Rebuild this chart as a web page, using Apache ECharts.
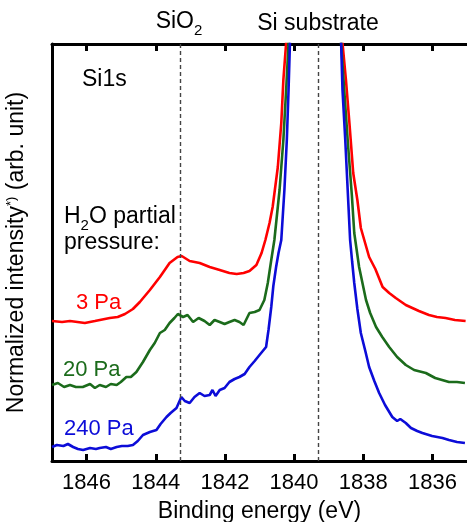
<!DOCTYPE html>
<html>
<head>
<meta charset="utf-8">
<script src="https://cdn.jsdelivr.net/npm/echarts@6/dist/echarts.min.js"></script>
<style>html,body{margin:0;padding:0;background:#fff}#c{width:467px;height:522px}</style>
</head>
<body>
<div id="c"></div>
<script>
// Binding energy axis ticks (eV)
const tickValues = [1836, 1838, 1840, 1842, 1844, 1846];
// Reference positions (dashed lines)
const refLines = [1843.3, 1839.3];
const refLabels = ['SiO2', 'Si substrate'];

// 3 Pa (red)
const energy3Pa = [1847.00,1846.71,1846.48,1846.05,1845.76,1845.33,1845.10,1844.89,1844.66,1844.46,1844.17,1843.88,1843.60,1843.37,1843.25,1843.02,1842.73,1842.44,1842.15,1841.87,1841.66,1841.46,1841.29,1841.09,1840.94,1840.83,1840.71,1840.62,1840.47,1840.37,1840.31,1840.23,1840.14,1838.69,1838.60,1838.50,1838.40,1838.29,1838.17,1838.07,1837.83,1837.65,1837.44,1837.25,1837.06,1836.77,1836.58,1836.39,1836.10,1835.87,1835.62,1835.35,1835.04];
const intensity3Pa = [140,139,140,138,140,143,144,147,152,159,171,184,198,204,205,200,198,194,191,188,187,188,190,196,208,221,238,254,294,338,381,418,470,470,418,381,338,288,261,233,204,192,174,168,163,156,153,150,146,144,143,141,140];

// 20 Pa (green)
const energy20Pa = [1847.00,1846.83,1846.65,1846.48,1846.31,1846.11,1845.90,1845.76,1845.62,1845.44,1845.30,1845.13,1845.01,1844.85,1844.72,1844.56,1844.37,1844.17,1844.03,1843.88,1843.74,1843.60,1843.46,1843.36,1843.21,1843.08,1842.92,1842.76,1842.59,1842.44,1842.30,1842.15,1842.01,1841.87,1841.72,1841.58,1841.46,1841.29,1841.14,1841.00,1840.86,1840.76,1840.66,1840.57,1840.42,1840.31,1840.23,1840.16,1840.08,1838.72,1838.64,1838.55,1838.45,1838.33,1838.26,1838.12,1837.92,1837.80,1837.63,1837.45,1837.25,1837.02,1836.77,1836.53,1836.19,1835.92,1835.52,1835.29,1835.06];
const intensity20Pa = [76,78,74,76,74,74,77,73,76,74,77,76,79,84,84,89,99,111,118,128,131,138,143,147,144,146,139,143,140,136,141,139,137,139,141,139,136,148,149,151,161,178,201,221,271,321,371,418,470,470,418,371,321,266,228,194,161,148,134,124,114,104,96,91,88,83,79,79,78];

// 240 Pa (blue)
const energy240Pa = [1847.00,1846.86,1846.67,1846.54,1846.39,1846.25,1846.10,1845.90,1845.73,1845.62,1845.44,1845.30,1845.13,1844.98,1844.81,1844.66,1844.52,1844.37,1844.17,1843.98,1843.86,1843.69,1843.57,1843.40,1843.26,1843.16,1843.02,1842.88,1842.73,1842.59,1842.44,1842.36,1842.27,1842.15,1842.01,1841.87,1841.72,1841.58,1841.43,1841.29,1841.14,1841.00,1840.81,1840.74,1840.66,1840.60,1840.52,1840.45,1840.37,1840.28,1840.21,1840.16,1840.12,1840.05,1838.72,1838.64,1838.60,1838.52,1838.45,1838.38,1838.32,1838.26,1838.17,1838.07,1837.94,1837.83,1837.68,1837.54,1837.37,1837.16,1837.02,1836.93,1836.77,1836.62,1836.44,1836.29,1836.01,1835.71,1835.52,1835.29,1835.06];
const intensity240Pa = [14,16,15,17,14,12,11,13,12,13,14,12,14,15,15,16,20,26,29,31,37,44,48,53,64,60,58,64,68,65,66,71,65,71,73,79,82,84,87,94,100,106,114,131,154,175,194,208,221,271,321,371,418,470,470,418,371,321,271,221,199,178,152,128,110,94,80,68,56,44,40,42,38,33,30,28,25,23,21,19,18];

const seriesNames = ['3 Pa', '20 Pa', '240 Pa'];
const seriesColors = ['#ff0000', '#1b6b1b', '#0c0cd8'];

function pairs(xs, ys) { return xs.map((x, i) => [x, ys[i]]); }

const FONT = 'Liberation Sans, Arial, sans-serif';
const chart = echarts.init(document.getElementById('c'), null, {renderer: 'canvas'});

const axisCommon = {
  type: 'value', min: 1835, max: 1847, inverse: true,
  splitLine: {show: false},
  axisLine: {show: true, onZero: false, lineStyle: {color: '#000', width: 3}},
};

const sub = {fontSize: 15, lineHeight: 18, verticalAlign: 'bottom', fontFamily: FONT, fill: '#000'};

chart.setOption({
  animation: false,
  grid: {left: 52, right: 0, top: 44, bottom: 61, containLabel: false, outerBoundsMode: 'none'},
  xAxis: [
    Object.assign({}, axisCommon, {
      position: 'bottom',
      name: 'Binding energy (eV)', nameLocation: 'middle', nameGap: 39,
      nameTextStyle: {fontSize: 23, color: '#000', fontFamily: FONT},
      axisTick: {show: true, inside: true, length: 7, customValues: tickValues, lineStyle: {color: '#000', width: 3}},
      axisLabel: {show: true, margin: 11, fontSize: 22, color: '#000', fontFamily: FONT, customValues: tickValues,
        formatter: v => String(v)}
    }),
    Object.assign({}, axisCommon, {
      position: 'top',
      axisTick: {show: true, inside: true, length: 7, customValues: tickValues, lineStyle: {color: '#000', width: 3}},
      axisLabel: {show: false}
    })
  ],
  yAxis: {
    type: 'value', min: 0, max: 417,
    splitLine: {show: false},
    axisTick: {show: false}, axisLabel: {show: false},
    axisLine: {show: true, lineStyle: {color: '#000', width: 3}},
    name: '{n|Normalized intensity}{sup|*)}{n| (arb. unit)}',
    nameLocation: 'middle', nameGap: 19, nameRotate: 90,
    nameTextStyle: {
      color: '#000', fontFamily: FONT, fontSize: 23,
      rich: {
        n: {fontSize: 23, lineHeight: 28, verticalAlign: 'top', fontFamily: FONT, color: '#000'},
        sup: {fontSize: 13, lineHeight: 14, verticalAlign: 'top', fontFamily: FONT, color: '#000'}
      }
    }
  },
  series: [
    {
      type: 'line', name: 'ref', data: [], silent: true,
      markLine: {
        silent: true, symbol: 'none', label: {show: false},
        lineStyle: {color: '#444', width: 1.4, type: [4, 3]},
        data: refLines.map(v => ({xAxis: v}))
      }
    }
  ].concat([
    pairs(energy3Pa, intensity3Pa),
    pairs(energy20Pa, intensity20Pa),
    pairs(energy240Pa, intensity240Pa)
  ].map((d, i) => ({
    type: 'line', name: seriesNames[i], data: d, showSymbol: false, symbol: 'none',
    clip: true, smooth: false, sampling: 'none',
    lineStyle: {color: seriesColors[i], width: 2.6}, z: 3
  }))),
  graphic: [
    {type: 'text', x: 179, y: 24, style: {
      text: '{n|SiO}{s|2}', align: 'center', verticalAlign: 'middle', textAlign: 'center', textVerticalAlign: 'middle',
      rich: {n: {fontSize: 23, lineHeight: 28, verticalAlign: 'top', fontFamily: FONT, fill: '#000'}, s: sub}
    }},
    {type: 'text', x: 318, y: 24, style: {
      text: refLabels[1], font: '23px ' + FONT, fill: '#000', align: 'center', verticalAlign: 'middle', textAlign: 'center', textVerticalAlign: 'middle'
    }},
    {type: 'text', x: 82, y: 80, style: {
      text: 'Si1s', font: '23px ' + FONT, fill: '#000', align: 'left', verticalAlign: 'middle', textAlign: 'left', textVerticalAlign: 'middle'
    }},
    {type: 'text', x: 64, y: 219, style: {
      text: '{n|H}{s|2}{n|O partial}', align: 'left', verticalAlign: 'middle', textAlign: 'left', textVerticalAlign: 'middle',
      rich: {n: {fontSize: 23, lineHeight: 28, verticalAlign: 'top', fontFamily: FONT, fill: '#000'}, s: sub}
    }},
    {type: 'text', x: 64, y: 243, style: {
      text: 'pressure:', font: '23px ' + FONT, fill: '#000', align: 'left', verticalAlign: 'middle', textAlign: 'left', textVerticalAlign: 'middle'
    }},
    {type: 'text', x: 76, y: 303, style: {
      text: seriesNames[0], font: '22px ' + FONT, fill: seriesColors[0], align: 'left', verticalAlign: 'middle', textAlign: 'left', textVerticalAlign: 'middle'
    }},
    {type: 'text', x: 63, y: 370, style: {
      text: seriesNames[1], font: '22px ' + FONT, fill: seriesColors[1], align: 'left', verticalAlign: 'middle', textAlign: 'left', textVerticalAlign: 'middle'
    }},
    {type: 'text', x: 64, y: 429, style: {
      text: seriesNames[2], font: '22px ' + FONT, fill: seriesColors[2], align: 'left', verticalAlign: 'middle', textAlign: 'left', textVerticalAlign: 'middle'
    }}
  ]
});
</script>
</body>
</html>
